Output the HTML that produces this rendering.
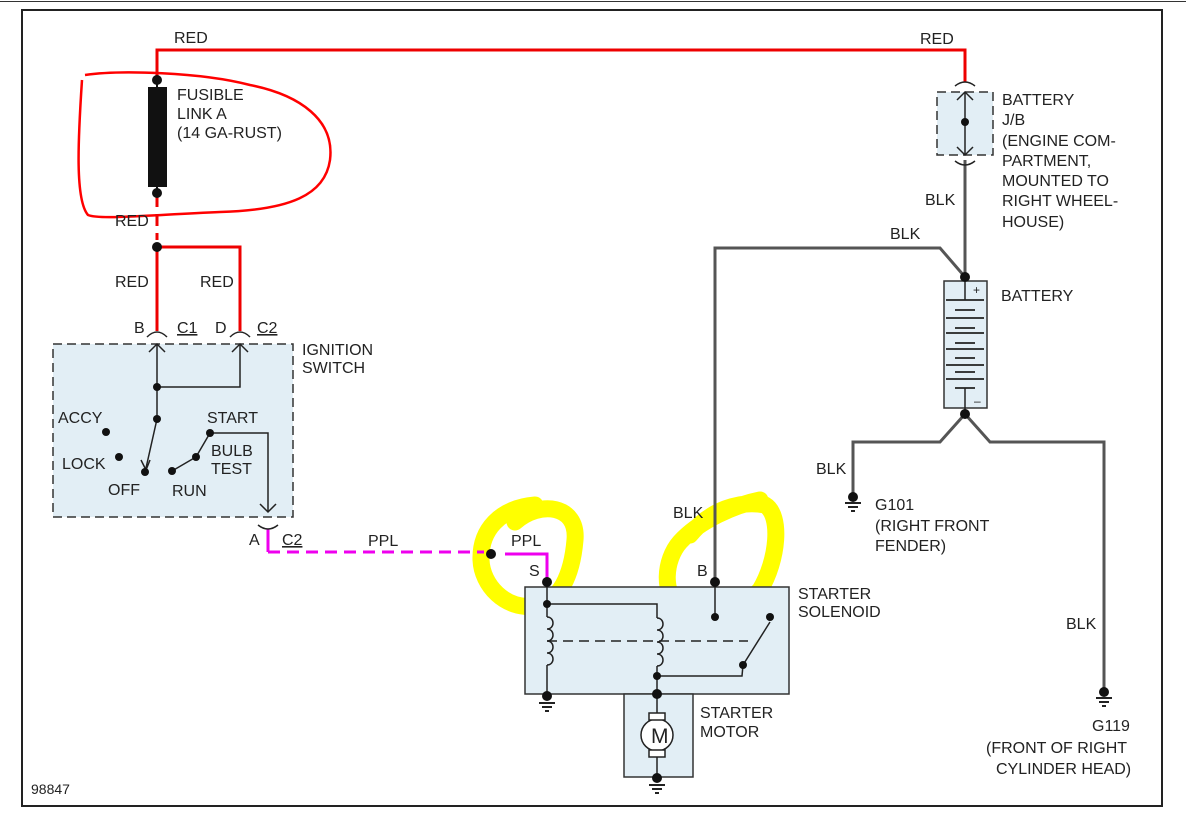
<!DOCTYPE html>
<html><head><meta charset="utf-8"><style>
html,body{margin:0;padding:0;background:#fff}
svg{display:block}
text{font-family:"Liberation Sans",Arial,sans-serif;font-size:16px;fill:#222}
</style></head><body>
<svg width="1186" height="821" viewBox="0 0 1186 821" xmlns="http://www.w3.org/2000/svg">
<line x1="0" y1="1.5" x2="1186" y2="1.5" stroke="#333" stroke-width="1"/>
<rect x="22" y="10" width="1140" height="796" fill="#fff" stroke="#222" stroke-width="2"/>

<!-- yellow highlights -->
<g fill="none" stroke="#ffff00" stroke-width="17" stroke-linecap="round" stroke-linejoin="round">
<path d="M515,522 C540,500 578,505 575,540 C572,575 560,602 535,606 C505,610 482,585 481,560 C480,530 500,508 535,505"/>
<path d="M690,535 C710,510 740,500 765,505 C782,515 778,560 760,590 C740,612 705,614 680,605 C662,595 664,560 680,542 C700,520 735,505 760,500"/>
</g>

<!-- red loop -->
<path d="M85,75 C120,70 200,72 250,85 C300,95 335,120 330,160 C325,195 290,210 220,212 C150,215 100,220 88,215 C75,200 78,140 82,80" fill="none" stroke="#ff0000" stroke-width="2.5"/>

<!-- boxes -->
<rect x="53" y="344" width="240" height="173" fill="#e2eef5" stroke="#333" stroke-width="1.5" stroke-dasharray="9,5"/>
<rect x="937" y="92" width="56" height="63" fill="#e2eef5" stroke="#333" stroke-width="1.5" stroke-dasharray="9,5"/>
<rect x="525" y="587" width="264" height="107" fill="#e2eef5" stroke="#333" stroke-width="1.5"/>
<rect x="624" y="694" width="69" height="83" fill="#e2eef5" stroke="#333" stroke-width="1.5"/>
<rect x="944" y="281" width="43" height="127" fill="#e2eef5" stroke="#333" stroke-width="1.5"/>

<!-- red wires -->
<g stroke="#ee0000" stroke-width="3" fill="none">
<polyline points="157,80 157,50 965,50 965,82"/>
<line x1="157" y1="195" x2="157" y2="240" stroke-dasharray="12,7"/>
<line x1="157" y1="247" x2="157" y2="331"/>
<polyline points="157,247 240,247 240,331"/>
</g>
<rect x="148" y="87" width="19" height="100" fill="#111"/>
<line x1="157" y1="80" x2="157" y2="195" stroke="#111" stroke-width="2"/>

<!-- gray wires -->
<g stroke="#555" stroke-width="3" fill="none">
<line x1="965" y1="160" x2="965" y2="277"/>
<polyline points="715,581 715,248 940,248 965,277"/>
<polyline points="965,414 940,442 853,442 853,497"/>
<polyline points="965,414 990,442 1104,442 1104,692"/>
</g>

<!-- magenta -->
<g stroke="#ee00ee" stroke-width="3" fill="none">
<line x1="268" y1="529" x2="268" y2="552"/>
<line x1="268" y1="552" x2="484" y2="552" stroke-dasharray="12,7"/>
<polyline points="505,554 547,554 547,581"/>
</g>

<!-- connectors -->
<g stroke="#222" stroke-width="1.5" fill="none">
<path d="M147,337 Q157,327 167,337"/><path d="M230,337 Q240,327 250,337"/>
<path d="M258,525 Q268,533 278,525"/>
<path d="M955,86 Q965,78 975,86"/><path d="M955,161 Q965,169 975,161"/>
<polyline points="149,352 157,344 165,352"/><polyline points="232,352 240,344 248,352"/>
<line x1="157" y1="344" x2="157" y2="419"/>
<polyline points="157,387 240,387 240,344"/>
<line x1="157" y1="419" x2="146" y2="468"/>
<polyline points="141,460 146,470 150,460"/>
<polyline points="172,471 196,457 210,433 268,433 268,512"/>
<polyline points="260,504 268,512 276,504"/>
<line x1="965" y1="92" x2="965" y2="155"/>
<polyline points="957,100 965,92 973,100"/><polyline points="957,147 965,155 973,147"/>
<line x1="547" y1="581" x2="547" y2="617"/>
<polyline points="547,604 657,604 657,618"/>
<path d="M547,617 c8,0 8,12 0,12 c8,0 8,12 0,12 c8,0 8,12 0,12 c8,0 8,12 0,12"/>
<line x1="547" y1="665" x2="547" y2="698"/>
<path d="M657,618 c8,0 8,12 0,12 c8,0 8,12 0,12 c8,0 8,12 0,12 c8,0 8,12 0,12"/>
<line x1="657" y1="666" x2="657" y2="777"/>
<polyline points="657,676 742,676 743,665 770,622"/>
<line x1="715" y1="581" x2="715" y2="617"/>
<line x1="547" y1="641" x2="748" y2="641" stroke-dasharray="10,6"/>
<circle cx="657" cy="735" r="16" fill="#fff"/>
<rect x="649" y="713" width="16" height="7" fill="#fff"/><rect x="649" y="750" width="16" height="7" fill="#fff"/>
<line x1="965" y1="277" x2="965" y2="300"/><line x1="965" y1="388" x2="965" y2="414"/>
<g stroke-width="1.8">
<line x1="946" y1="300" x2="984" y2="300"/><line x1="955" y1="310" x2="975" y2="310"/>
<line x1="946" y1="318" x2="984" y2="318"/><line x1="955" y1="328" x2="975" y2="328"/>
<line x1="946" y1="333" x2="984" y2="333"/><line x1="955" y1="343" x2="975" y2="343"/>
<line x1="946" y1="349" x2="984" y2="349"/><line x1="955" y1="358" x2="975" y2="358"/>
<line x1="946" y1="365" x2="984" y2="365"/><line x1="955" y1="372" x2="975" y2="372"/>
<line x1="946" y1="379" x2="984" y2="379"/><line x1="955" y1="388" x2="975" y2="388"/>
</g>
<g stroke-width="2">
<line x1="539" y1="703" x2="555" y2="703"/><line x1="542" y1="707" x2="552" y2="707"/><line x1="545" y1="711" x2="549" y2="711"/>
<line x1="649" y1="785" x2="665" y2="785"/><line x1="652" y1="789" x2="662" y2="789"/><line x1="655" y1="793" x2="659" y2="793"/>
<line x1="845" y1="503" x2="861" y2="503"/><line x1="848" y1="507" x2="858" y2="507"/><line x1="851" y1="511" x2="855" y2="511"/>
<line x1="1096" y1="698" x2="1112" y2="698"/><line x1="1099" y1="702" x2="1109" y2="702"/><line x1="1102" y1="706" x2="1106" y2="706"/>
</g>
</g>
<text x="651" y="743" style="font-size:21px">M</text>
<text x="973" y="294" style="font-size:12px">+</text>
<text x="974" y="405" style="font-size:12px">–</text>

<g fill="#111">
<circle cx="157" cy="80" r="5"/><circle cx="157" cy="193" r="5"/><circle cx="157" cy="247" r="5"/>
<circle cx="157" cy="387" r="4"/><circle cx="157" cy="419" r="4"/><circle cx="145" cy="472" r="4"/>
<circle cx="106" cy="432" r="4"/><circle cx="119" cy="457" r="4"/><circle cx="172" cy="471" r="4"/>
<circle cx="196" cy="457" r="4"/><circle cx="210" cy="433" r="4"/>
<circle cx="965" cy="122" r="4"/><circle cx="965" cy="277" r="5"/><circle cx="965" cy="414" r="5"/>
<circle cx="491" cy="554" r="5"/><circle cx="547" cy="582" r="5"/><circle cx="547" cy="604" r="4"/>
<circle cx="715" cy="582" r="5"/><circle cx="715" cy="617" r="4"/><circle cx="657" cy="676" r="4"/>
<circle cx="743" cy="665" r="4"/><circle cx="770" cy="617" r="4"/>
<circle cx="547" cy="696" r="5"/><circle cx="657" cy="694" r="5"/><circle cx="657" cy="778" r="5"/>
<circle cx="853" cy="497" r="5"/><circle cx="1104" cy="692" r="5"/>
</g>

<text x="174" y="43">RED</text><text x="920" y="44">RED</text>
<text x="177" y="100">FUSIBLE</text><text x="177" y="119">LINK A</text><text x="177" y="138">(14 GA-RUST)</text>
<text x="115" y="226">RED</text><text x="115" y="287">RED</text><text x="200" y="287">RED</text>
<text x="134" y="333">B</text><text x="177" y="333" text-decoration="underline">C1</text>
<text x="215" y="333">D</text><text x="257" y="333" text-decoration="underline">C2</text>
<text x="302" y="355">IGNITION</text><text x="302" y="373">SWITCH</text>
<text x="58" y="423">ACCY</text><text x="62" y="469">LOCK</text><text x="108" y="495">OFF</text>
<text x="172" y="496">RUN</text><text x="207" y="423">START</text>
<text x="211" y="456">BULB</text><text x="211" y="474">TEST</text>
<text x="249" y="545">A</text><text x="282" y="545" text-decoration="underline">C2</text>
<text x="368" y="546">PPL</text><text x="511" y="546">PPL</text>
<text x="529" y="576">S</text><text x="697" y="576">B</text><text x="673" y="518">BLK</text>
<text x="798" y="599">STARTER</text><text x="798" y="617">SOLENOID</text>
<text x="700" y="718">STARTER</text><text x="700" y="737">MOTOR</text>
<text x="1002" y="105">BATTERY</text><text x="1002" y="125">J/B</text>
<text x="1002" y="146">(ENGINE COM-</text><text x="1002" y="166">PARTMENT,</text>
<text x="1002" y="186">MOUNTED TO</text><text x="1002" y="206">RIGHT WHEEL-</text><text x="1002" y="227">HOUSE)</text>
<text x="925" y="205">BLK</text><text x="890" y="239">BLK</text>
<text x="1001" y="301">BATTERY</text>
<text x="816" y="474">BLK</text>
<text x="875" y="510">G101</text><text x="875" y="531">(RIGHT FRONT</text><text x="875" y="551">FENDER)</text>
<text x="1066" y="629">BLK</text>
<text x="1092" y="731">G119</text><text x="986" y="753">(FRONT OF RIGHT</text><text x="996" y="774">CYLINDER HEAD)</text>
<text x="31" y="794" style="font-size:14px">98847</text>
</svg>
</body></html>
